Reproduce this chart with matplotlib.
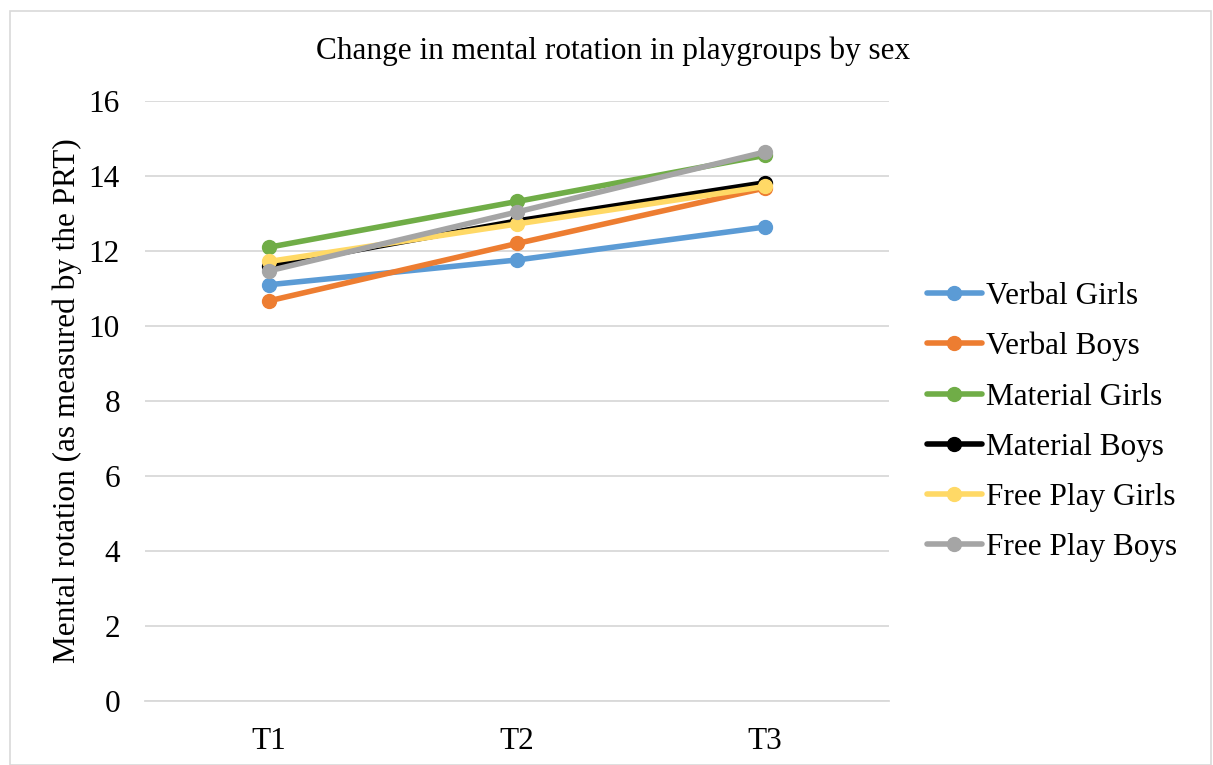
import matplotlib.pyplot as plt

# Mean PRT scores per playgroup and sex at each time point
times = ["T1", "T2", "T3"]
verbal_girls = [11.1, 11.76, 12.64]
verbal_boys = [10.67, 12.2, 13.68]
material_girls = [12.1, 13.32, 14.55]
material_boys = [11.6, 12.8, 13.82]
freeplay_girls = [11.72, 12.72, 13.72]
freeplay_boys = [11.47, 13.04, 14.64]

series = [
    ("Verbal Girls", verbal_girls, "#5B9BD5"),
    ("Verbal Boys", verbal_boys, "#ED7D31"),
    ("Material Girls", material_girls, "#70AD47"),
    ("Material Boys", material_boys, "#000000"),
    ("Free Play Girls", freeplay_girls, "#FFD966"),
    ("Free Play Boys", freeplay_boys, "#A5A5A5"),
]

plt.rcParams['font.family'] = ['Liberation Serif', 'DejaVu Serif']

fig = plt.figure(figsize=(12.13, 7.65), dpi=100)
ax = fig.add_axes([0.1195, 0.0837, 0.6135, 0.7843])

x = range(len(times))
for name, vals, col in series:
    ax.plot(x, vals, color=col, linewidth=4, marker='o', markersize=10,
            label=name, solid_capstyle='round')

ax.set_xlim(-0.5, 2.5)
ax.set_ylim(0, 16)
ax.set_yticks(range(0, 17, 2))
ax.set_xticks(list(x))
ax.set_xticklabels(times)
ax.tick_params(axis='both', length=0, labelsize=22.5)
ax.tick_params(axis='y', pad=18)
ax.tick_params(axis='x', pad=19)
ax.grid(axis='y', color='#d9d9d9', linewidth=1.3)
ax.set_axisbelow(True)
for side in ['top', 'right', 'left']:
    ax.spines[side].set_visible(False)
ax.spines['bottom'].set_color('#d9d9d9')
ax.spines['bottom'].set_linewidth(1.3)

ax.set_ylabel("Mental rotation (as measured by the PRT)", fontsize=22.5, labelpad=5)
fig.text(0.505, 0.933, "Change in mental rotation in playgroups by sex",
         ha='center', va='center', fontsize=22.5)

ax.legend(loc='center left', bbox_to_anchor=(1.03, 0.465), frameon=False,
          fontsize=22.5, handlelength=1.75, handletextpad=0.15,
          labelspacing=0.68, borderpad=0)

# light border around the chart area
fig.patches.append(plt.Rectangle((0.008, 0.0), 0.99, 0.985, transform=fig.transFigure,
                                 fill=False, edgecolor='#d9d9d9', linewidth=1.2))

fig.savefig("out.png", dpi=100)
